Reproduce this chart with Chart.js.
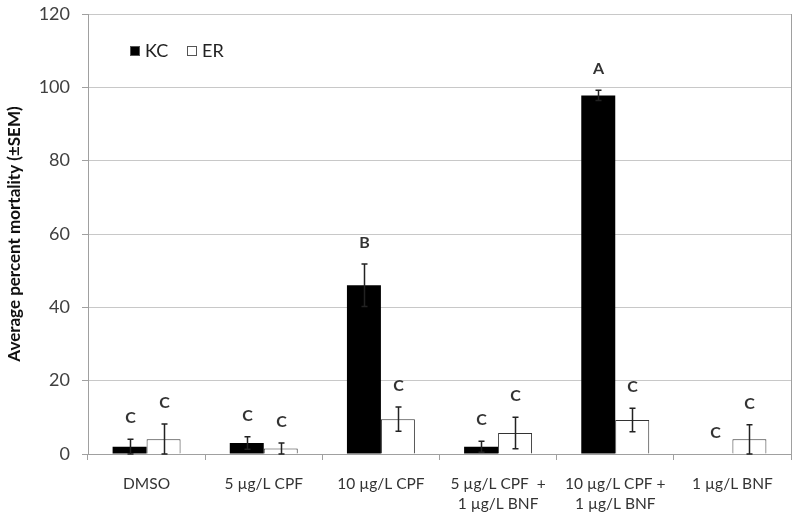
<!DOCTYPE html>
<html>
<head>
<meta charset="utf-8">
<script src="https://cdn.jsdelivr.net/npm/chart.js@4"></script>
<style>
  html, body { margin: 0; padding: 0; background: #fff; }
  #wrap { width: 800px; height: 521px; }
</style>
</head>
<body>
<div id="wrap"><canvas id="mortality"></canvas></div>
<script>
// treatment groups
var categories = [
    'DMSO',
    '5 µg/L CPF',
    '10 µg/L CPF',
    ['5 µg/L CPF  +', '1 µg/L BNF'],
    ['10 µg/L CPF +', '1 µg/L BNF'],
    '1 µg/L BNF'
];

// mean mortality (%) and SEM
var kcValues = [2, 3, 46, 2, 97.8, 0];
var kcSem = [2, 1.7, 5.8, 1.5, 1.4, 0];
var erValues = [4, 1.5, 9.5, 5.7, 9.3, 4];
var erSem = [4.2, 1.5, 3.3, 4.3, 3.2, 4];

// significance letters
var kcLetters = ['C', 'C', 'B', 'C', 'A', 'C'];
var erLetters = ['C', 'C', 'C', 'C', 'C', 'C'];

var yTicks = [0, 20, 40, 60, 80, 100, 120];

var fontFam = 'Lato, "Open Sans", sans-serif';
var axisGray = '#a0a0a0';

// error bars, letters, inner legend and right border
var extras = {
    id: 'extras',
    afterDatasetsDraw: function(chart) {
        var ctx = chart.ctx;
        var yScale = chart.scales.y;
        var area = chart.chartArea;
        var sems = [kcSem, erSem];
        var letters = [kcLetters, erLetters];

        ctx.save();
        // right border
        ctx.strokeStyle = axisGray;
        ctx.lineWidth = 1;
        ctx.beginPath();
        ctx.moveTo(Math.round(area.right) + 0.5, area.top);
        ctx.lineTo(Math.round(area.right) + 0.5, area.bottom);
        ctx.stroke();

        chart.data.datasets.forEach(function(ds, d) {
            var meta = chart.getDatasetMeta(d);
            meta.data.forEach(function(bar, i) {
                var v = ds.data[i];
                var s = sems[d][i];
                var x = Math.round(bar.x) + 0.5;
                var top = yScale.getPixelForValue(v + s);
                var bot = yScale.getPixelForValue(Math.max(0, v - s));
                if (s > 0) {
                    ctx.strokeStyle = '#222';
                    ctx.lineWidth = 1.5;
                    ctx.beginPath();
                    ctx.moveTo(x, top);
                    ctx.lineTo(x, bot);
                    ctx.moveTo(x - 3, top);
                    ctx.lineTo(x + 3, top);
                    ctx.moveTo(x - 3, bot);
                    ctx.lineTo(x + 3, bot);
                    ctx.stroke();
                }
                ctx.fillStyle = '#333';
                ctx.font = 'bold 16px ' + fontFam;
                ctx.textAlign = 'center';
                ctx.textBaseline = 'bottom';
                ctx.fillText(letters[d][i], x, top - 13);
            });
        });

        // legend inside the plot
        var lx = area.left + 42;
        var ly = area.top + 37;
        ctx.font = '18px ' + fontFam;
        ctx.textAlign = 'left';
        ctx.textBaseline = 'middle';
        chart.data.datasets.forEach(function(ds, d) {
            ctx.fillStyle = ds.backgroundColor;
            ctx.fillRect(lx, ly - 5, 10, 10);
            ctx.strokeStyle = '#555';
            ctx.lineWidth = 1;
            ctx.strokeRect(lx + 0.5, ly - 4.5, 9, 9);
            ctx.fillStyle = '#222';
            ctx.fillText(ds.label, lx + 15, ly);
            lx += 57;
        });
        ctx.restore();
    }
};

var ctx = document.getElementById('mortality').getContext('2d');
new Chart(ctx, {
    type: 'bar',
    data: {
        labels: categories,
        datasets: [
            {
                label: 'KC',
                data: kcValues,
                backgroundColor: '#000000',
                borderColor: '#000000',
                borderWidth: 0
            },
            {
                label: 'ER',
                data: erValues,
                backgroundColor: '#ffffff',
                borderColor: '#333333',
                borderWidth: 1
            }
        ]
    },
    options: {
        responsive: true,
        maintainAspectRatio: false,
        animation: false,
        categoryPercentage: 0.58,
        barPercentage: 1.0,
        layout: { padding: { top: 14, right: 9, left: 0, bottom: 0 } },
        plugins: {
            legend: { display: false },
            tooltip: { enabled: false }
        },
        scales: {
            x: {
                grid: {
                    drawOnChartArea: false,
                    offset: true,
                    tickLength: 6,
                    color: axisGray
                },
                border: { color: axisGray },
                ticks: {
                    color: '#333',
                    font: { family: fontFam, size: 15.5, lineHeight: 1.3 },
                    maxRotation: 0,
                    padding: 14
                },
                afterFit: function(scale) { scale.height = 67; }
            },
            y: {
                min: 0,
                max: 120,
                afterBuildTicks: function(scale) {
                    scale.ticks = yTicks.map(function(v) { return { value: v }; });
                },
                grid: {
                    color: '#c8c8c8',
                    tickLength: 6,
                    tickColor: axisGray
                },
                border: { color: axisGray },
                ticks: {
                    color: '#404040',
                    font: { family: fontFam, size: 18 },
                    padding: 12
                },
                title: {
                    display: true,
                    text: 'Average percent mortality (±SEM)',
                    color: '#111',
                    font: { family: fontFam, size: 17, weight: 'bold' },
                    padding: { top: 4, bottom: 0 }
                },
                afterFit: function(scale) {
                    scale.width = 88;
                    scale.paddingTop = 0;
                    scale.paddingBottom = 0;
                }
            }
        }
    },
    plugins: [extras]
});
</script>
</body>
</html>
